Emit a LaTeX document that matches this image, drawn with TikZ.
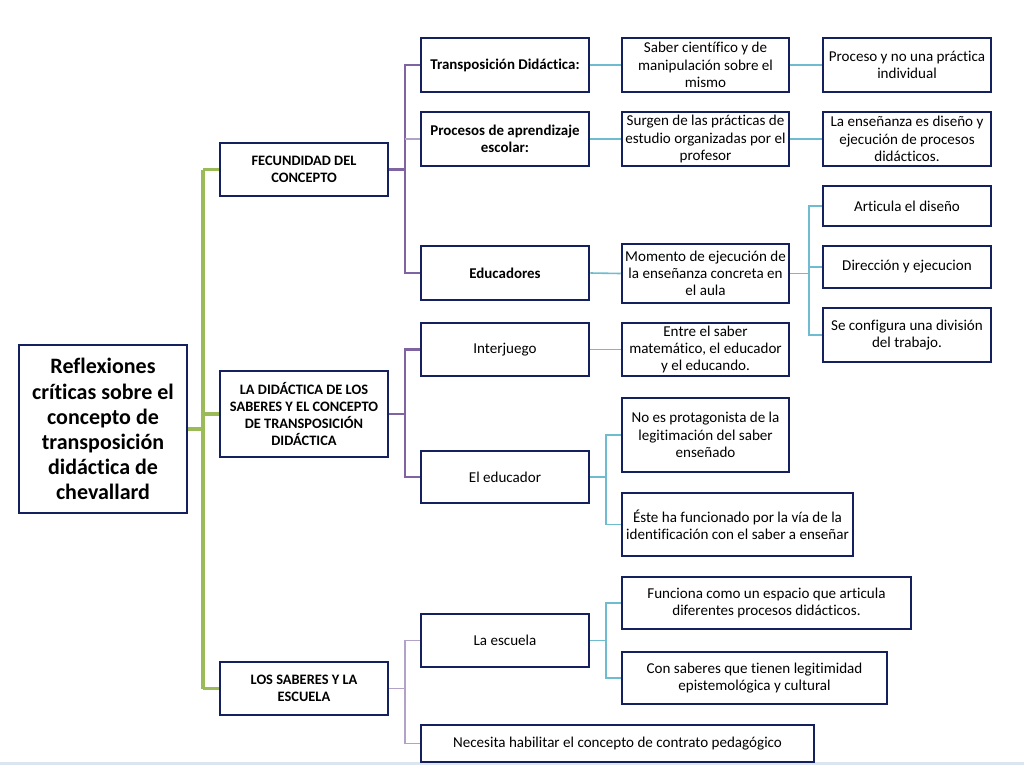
\documentclass[tikz,border=0pt]{standalone}
\usepackage{fontspec}
\setmainfont{Carlito}[Ligatures=NoCommon]
\definecolor{navy}{HTML}{14215E}
\definecolor{gr}{HTML}{9BBB59}
\definecolor{pu}{HTML}{8064A2}
\definecolor{pul}{HTML}{B3A2C7}
\definecolor{te}{HTML}{6FBCD0}
\definecolor{strip}{HTML}{DCE6F0}
\tikzset{
  box/.style={draw=navy, line width=1.9pt, fill=white, inner sep=1pt, align=center, anchor=center},
  txt/.style={box, font=\fontsize{11.3}{12.9}\selectfont},
  btxt/.style={box, font=\fontsize{11.2}{12.9}\selectfont\bfseries},
  lone/.style={box, font=\fontsize{10.8}{12.8}\selectfont\bfseries},
  rootbox/.style={box, font=\fontsize{16.5}{18.8}\selectfont\bfseries},
  gline/.style={draw=gr, line width=2.4pt},
  pline/.style={draw=pu, line width=2.2pt},
  plline/.style={draw=pul, line width=1.3pt},
  tline/.style={draw=te, line width=1.2pt},
}
\newcommand{\bx}[7]{% style, name, cx, cy, w, h, text
  \node[#1, minimum width=#5*0.75pt, minimum height=#6*0.75pt] (#2) at (#3,#4) {#7};}
\begin{document}
\begin{tikzpicture}[x=0.75pt,y=-0.75pt]
\useasboundingbox (0,0) rectangle (1024,765);
\fill[white] (0,0) rectangle (1024,765);
\fill[strip] (0,762) rectangle (1024,765);
% trunk coordinates
\coordinate (gt) at (203,0);
\coordinate (pt) at (405,0);
\coordinate (tt1) at (809,0);
\coordinate (tt2) at (606,0);
% boxes
\bx{rootbox}{root}{103}{429}{168}{168}{Reflexiones\\críticas sobre el\\concepto de\\transposición\\didáctica de\\chevallard}
\bx{lone}{fec}{304}{169.5}{168}{53}{FECUNDIDAD DEL\\CONCEPTO}
\bx{lone}{did}{304}{414}{168}{86}{LA DIDÁCTICA DE LOS\\SABERES Y EL CONCEPTO\\DE TRANSPOSICIÓN\\DIDÁCTICA}
\bx{lone}{sab}{304}{688.5}{168}{53}{LOS SABERES Y LA\\ESCUELA}
\bx{btxt}{tra}{505}{65}{168}{54}{Transposición Didáctica:}
\bx{btxt}{pro}{505}{139}{168}{54}{Procesos de aprendizaje\\escolar:}
\bx{btxt}{edu}{505}{273}{168}{54}{Educadores}
\bx{txt}{int}{505}{349.5}{168}{53}{Interjuego}
\bx{txt}{eld}{505}{477}{168}{52}{El educador}
\bx{txt}{esc}{505}{640.5}{168}{53}{La escuela}
\bx{txt}{nec}{617.5}{743.5}{393}{37}{Necesita habilitar el concepto de contrato pedagógico}
\bx{txt}{sci}{705.5}{65}{167}{54}{Saber científico y de\\manipulación sobre el\\mismo}
\bx{txt}{sur}{705.5}{139}{167}{54}{Surgen de las prácticas de\\estudio organizadas por el\\profesor}
\bx{txt}{mom}{705.5}{273.5}{167}{59}{Momento de ejecución de\\la enseñanza concreta en\\el aula}
\bx{txt}{ent}{705.5}{349.5}{167}{53}{Entre el saber\\matemático, el educador\\y el educando.}
\bx{txt}{noe}{705.5}{435}{167}{74}{No es protagonista de la\\legitimación del saber\\enseñado}
\bx{txt}{est}{737.5}{524.5}{231}{63}{Éste ha funcionado por la vía de la\\identificación con el saber a enseñar}
\bx{txt}{fun}{766.5}{603}{289}{52}{Funciona como un espacio que articula\\diferentes procesos didácticos.}
\bx{txt}{con}{754.5}{678}{265}{52}{Con saberes que tienen legitimidad\\epistemológica y cultural}
\bx{txt}{prc}{907}{65}{168}{54}{Proceso y no una práctica\\individual}
\bx{txt}{ens}{907}{139}{168}{54}{La enseñanza es diseño y\\ejecución de procesos\\didácticos.}
\bx{txt}{art}{907}{206}{168}{40}{Articula el diseño}
\bx{txt}{dir}{907}{267}{168}{42}{Dirección y ejecucion}
\bx{txt}{sec}{907}{335}{168}{54}{Se configura una división\\del trabajo.}
% green
\draw[gline] (root.east) -- (gt |- root.east);
\draw[gline] (gt |- fec.west) -- (fec.west);
\draw[gline] (gt |- did.west) -- (did.west);
\draw[gline] (gt |- sab.west) -- (sab.west);
\draw[gline] (gt |- fec.west) -- (gt |- sab.west);
% purple
\draw[pline] (fec.east) -- (pt |- fec.east);
\draw[pline] (tra.west) -| (pt |- edu.west) -- (edu.west);
\draw[plline] (pt |- pro.west) -- (pro.west);
\draw[pline] (did.east) -- (pt |- did.east);
\draw[pline] (int.west) -| (pt |- eld.west) -- (eld.west);
\draw[plline] (sab.east) -- (pt |- sab.east);
\draw[plline] (esc.west) -| (pt |- nec.west) -- (nec.west);
% teal
\draw[tline] (tra.east) -- (sci.west);
\draw[tline] (sci.east) -- (prc.west);
\draw[tline] (pro.east) -- (sur.west);
\draw[tline] (sur.east) -- (ens.west);
\draw[tline] (edu.east) -- (mom.west);
\draw[tline] (mom.east) -- (tt1 |- mom.east);
\draw[tline] (art.west) -| (tt1 |- sec.west) -- (sec.west);
\draw[tline] (tt1 |- dir.west) -- (dir.west);
\draw[tline] (int.east) -- (ent.west);
\draw[tline] (eld.east) -- (tt2 |- eld.east);
\draw[tline] (noe.west) -| (tt2 |- est.west) -- (est.west);
\draw[tline] (esc.east) -- (tt2 |- esc.east);
\draw[tline] (fun.west) -| (tt2 |- con.west) -- (con.west);
\end{tikzpicture}
\end{document}
